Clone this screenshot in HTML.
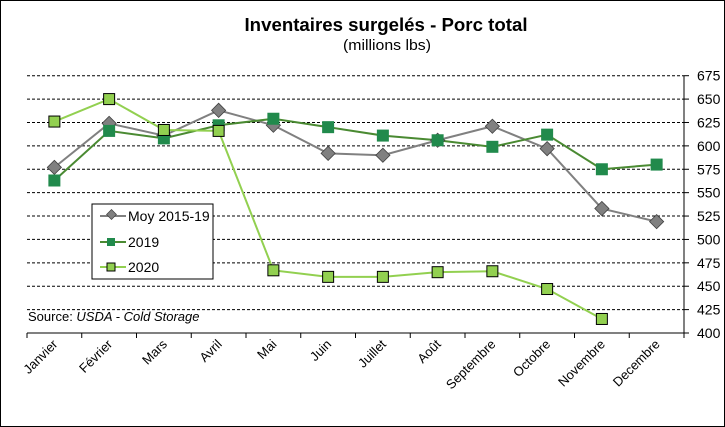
<!DOCTYPE html>
<html><head><meta charset="utf-8"><style>
body{margin:0;background:#fff}
svg{display:block;font-family:"Liberation Sans",Arial,sans-serif}
</style></head><body>
<svg width="725" height="427">
<rect x="0.5" y="0.5" width="724" height="426" fill="#fff" stroke="#000"/>
<text x="386" y="31" text-anchor="middle" font-size="18" font-weight="bold" textLength="283" lengthAdjust="spacingAndGlyphs">Inventaires surgelés - Porc total</text>
<text x="387" y="50" text-anchor="middle" font-size="15" textLength="88" lengthAdjust="spacingAndGlyphs">(millions lbs)</text>
<g id="grid"></g><g id="axes"></g><g id="series"></g>
<g>
<rect x="92" y="204" width="121" height="75" fill="#fff" stroke="#000"/>
<line x1="100" y1="216" x2="126" y2="216" stroke="#808080" stroke-width="2"/>
<rect x="108" y="211" width="7" height="7" transform="rotate(45 111.5 214.5)" fill="#808080" stroke="#404040" stroke-width="0.7"/>
<text x="128" y="221" font-size="14">Moy 2015-19</text>
<line x1="100" y1="242" x2="126" y2="242" stroke="#4a8a32" stroke-width="2"/>
<rect x="107" y="238" width="8" height="8" fill="#218a4c"/>
<text x="128" y="247" font-size="14">2019</text>
<line x1="100" y1="267" x2="126" y2="267" stroke="#92d050" stroke-width="2"/>
<rect x="107" y="263" width="8" height="8" fill="#92d050" stroke="#000" stroke-width="1"/>
<text x="128" y="272" font-size="14">2020</text>
</g>
<text x="28" y="321" font-size="13">Source: <tspan font-style="italic">USDA - Cold Storage</tspan></text>
</svg>
<script>
const categories=["Janvier","Février","Mars","Avril","Mai","Juin","Juillet","Août","Septembre","Octobre","Novembre","Decembre"];
const moy=[577,624,611,638,622,592,590,606,621,597,533,519];
const y2019=[563,616,608,622,629,620,611,606,599,612,575,580];
const y2020=[626,650,617,616,467,460,460,465,466,447,415,null];
const yTicks=[400,425,450,475,500,525,550,575,600,625,650,675];
const NS="http://www.w3.org/2000/svg";
const L=27,R=684,T=75.7,B=333,ymin=400,ymax=675;
const bw=(R-L)/categories.length;
const xs=i=>L+bw*(i+0.5);
const ys=v=>B-(v-ymin)/(ymax-ymin)*(B-T);
function mk(tag,attrs,parent){const e=document.createElementNS(NS,tag);for(const k in attrs)e.setAttribute(k,attrs[k]);parent.appendChild(e);return e;}
const grid=document.getElementById('grid'),axes=document.getElementById('axes'),ser=document.getElementById('series');
yTicks.forEach(v=>{
 if(v>ymin){const g=mk('line',{x1:L,x2:R,y1:ys(v),y2:ys(v),stroke:'#000','stroke-dasharray':'3,2','stroke-width':1},grid);
 
 }
 mk('line',{x1:R,x2:R+5,y1:ys(v),y2:ys(v),stroke:'#000'},axes);
 const t=mk('text',{x:R+13,y:ys(v)+5,'font-size':14},axes);t.textContent=v;
 
 
});
const ya=mk('line',{x1:R,x2:R,y1:T,y2:B,stroke:'#000'},axes);


const xa=mk('line',{x1:L,x2:R,y1:B,y2:B,stroke:'#000'},axes);


for(let i=0;i<=categories.length;i++)mk('line',{x1:L+bw*i,x2:L+bw*i,y1:B,y2:B+5,stroke:'#000'},axes);
categories.forEach((c,i)=>{
 const x=xs(i)+4,y=B+12;
 const t=mk('text',{x:x,y:y,'font-size':13,'text-anchor':'end',transform:`rotate(-45 ${x} ${y})`},axes);t.textContent=c;
 
 
});
function line(data,color,name){
 let d='';data.forEach((v,i)=>{if(v!=null)d+=(d?'L':'M')+xs(i)+','+ys(v);});
 const p=mk('path',{d:d,fill:'none',stroke:color,'stroke-width':2},ser);
 
 
}
line(moy,'#808080','moy');line(y2019,'#4a8a32','y2019');line(y2020,'#92d050','y2020');
moy.forEach((v,i)=>{const x=xs(i),y=ys(v);
 const m=mk('rect',{x:x-5,y:y-5,width:10,height:10,transform:`rotate(45 ${x} ${y})`,fill:'#808080',stroke:'#404040','stroke-width':0.8},ser);
 
 });
y2019.forEach((v,i)=>{const x=xs(i),y=ys(v);
 const m=mk('rect',{x:x-6,y:y-6,width:12,height:12,fill:'#218a4c'},ser);
 
 });
y2020.forEach((v,i)=>{if(v==null)return;const x=xs(i),y=ys(v);
 const m=mk('rect',{x:x-5.5,y:y-5.5,width:11,height:11,fill:'#92d050',stroke:'#000','stroke-width':1},ser);
 
 });
</script>
</body></html>
